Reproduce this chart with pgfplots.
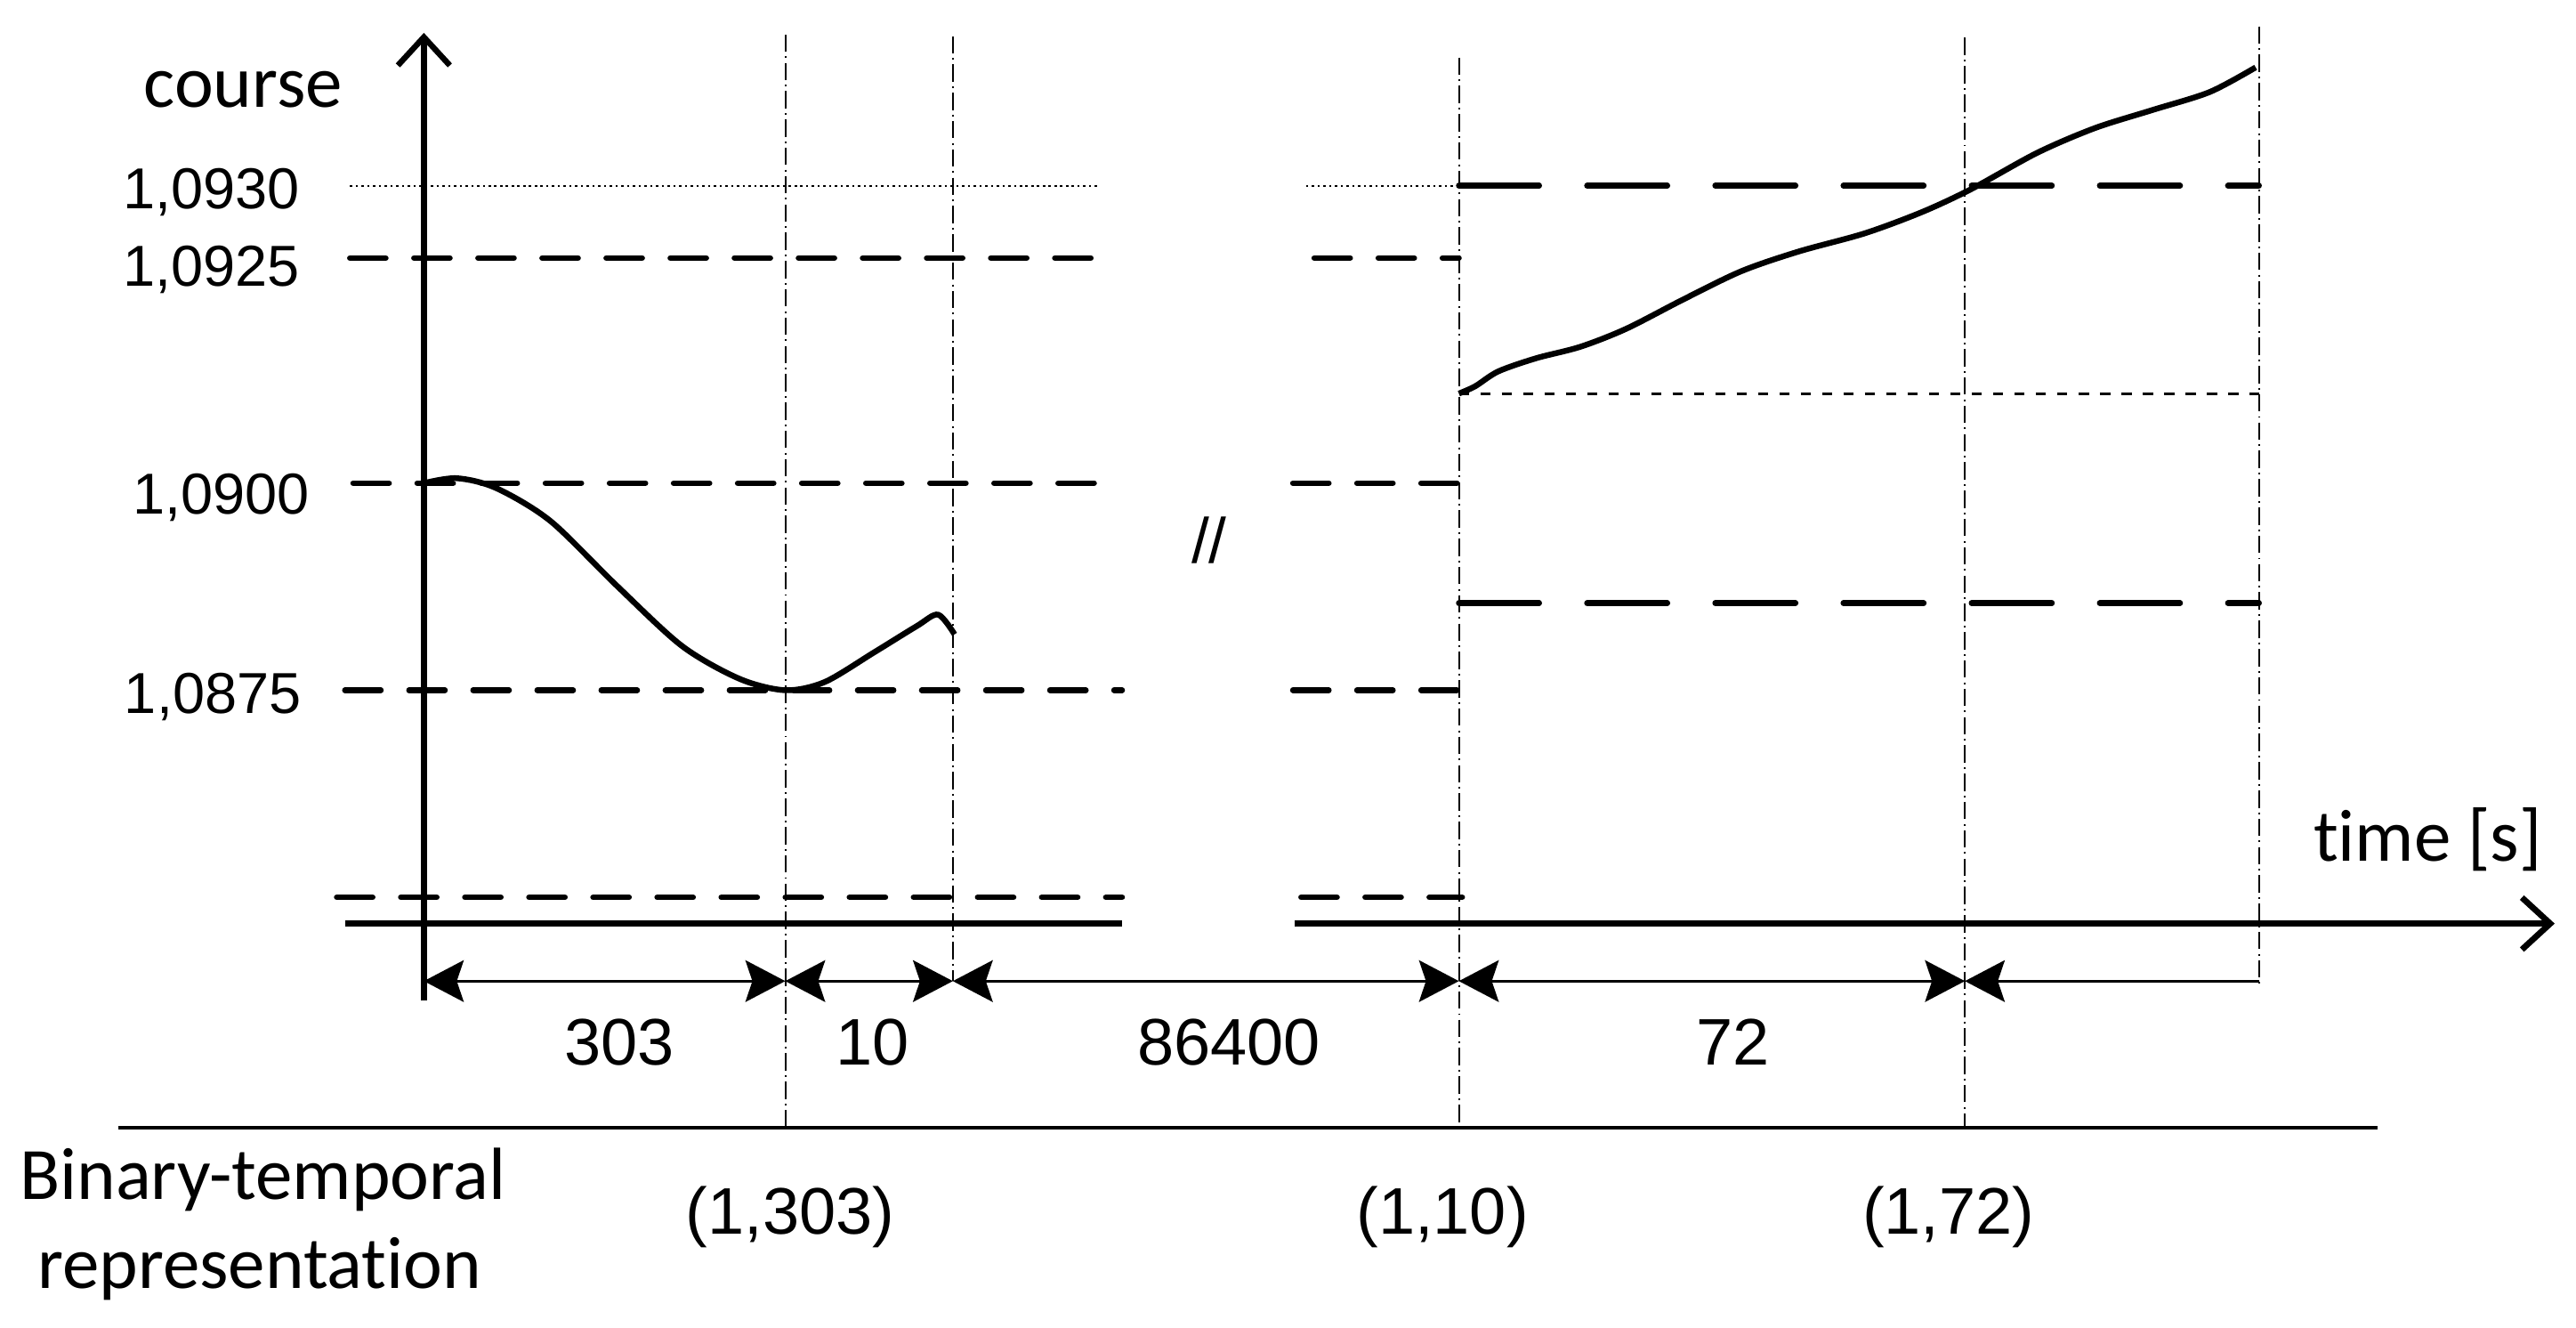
\documentclass[border=0pt]{standalone}
\usepackage{fontspec}
\setmainfont{Carlito}[Ligatures=NoCommon]
\newfontfamily\arial{Liberation Sans}
\usepackage{pgfplots}
\pgfplotsset{compat=1.18}
\usetikzlibrary{arrows.meta}

\tikzset{
  ddash/.style={black, line width=1pt, line cap=round, dash pattern=on 6.2pt off 4.9pt},
  ldash/.style={black, line width=1pt, line cap=round, dash pattern=on 13.9pt off 8.3pt},
  tdash/.style={black, line width=0.5pt, dash pattern=on 1.8pt off 1.9pt},
  dotl/.style={black, line width=0.3pt, dash pattern=on 0.4pt off 0.6pt},
  dd/.style={black, line width=0.3pt, dash pattern=on 3pt off 0.8pt on 0.3pt off 0.8pt},
  dimtip/.tip={Stealth[length=6.9pt,width=7.2pt,inset=1.2pt]},
  barb/.tip={Straight Barb[length=4.9pt,width=9pt]},
}
\newcommand\tickfont{\arial\fontsize{10}{11}\selectfont}
\newcommand\numfont{\arial\fontsize{11.4}{13}\selectfont}
\newcommand\txtfont{\fontsize{12.8}{15}\selectfont}

\begin{document}
\begin{tikzpicture}
\begin{axis}[
    width=15.68cm, height=8.08cm, scale only axis,
    xmin=0, xmax=1568, ymin=0, ymax=808, y dir=reverse,
    hide axis, clip=false,
]
\coordinate (bl) at (rel axis cs:0,0);
\coordinate (tr) at (rel axis cs:1,1);

% dash-dot guides
\addplot[dd] coordinates {(478,21) (478,686)};
\addplot[dd] coordinates {(580,22) (580,597)};
\addplot[dd] coordinates {(888,35) (888,686)};
\addplot[dd] coordinates {(1196,23) (1196,686)};
\addplot[dd] coordinates {(1375,16) (1375,600)};

% level lines, left part
\addplot[dotl]  coordinates {(213,113) (668,113)};
\addplot[ddash] coordinates {(213,157) (669,157)};
\addplot[ddash] coordinates {(215,294) (680,294)};
\addplot[ddash] coordinates {(210,420) (683,420)};
\addplot[ddash] coordinates {(205,546) (683,546)};

% level lines, right part
\addplot[dotl]  coordinates {(795,113) (888,113)};
\addplot[ddash] coordinates {(800,157) (888,157)};
\addplot[ddash] coordinates {(787,294) (895,294)};
\addplot[ddash] coordinates {(787,420) (887,420)};
\addplot[ddash] coordinates {(792,546) (890,546)};
\addplot[ldash] coordinates {(888,113) (1375,113)};
\addplot[ldash] coordinates {(888,367) (1375,367)};
\addplot[tdash] coordinates {(888,239.5) (1375,239.5)};

% axes
\addplot[black, line width=1pt, -barb] coordinates {(258,609) (258,20)};
\addplot[black, line width=1.05pt] coordinates {(210,562) (683,562)};
\addplot[black, line width=1.05pt, -barb] coordinates {(788,562) (1555,562)};

% course
\addplot[black, line width=1pt, smooth] coordinates {
  (258,294) (278,291) (302,297) (335,317) (375,356) (415,393)
  (450,413) (478,420) (502,415) (532,397) (558,381) (571,374) (581,386)
};
\addplot[black, line width=1pt, smooth] coordinates {
  (888,239.5) (898,235) (912,226) (935,218) (962,211) (990,200)
  (1025,182) (1060,165) (1095,153) (1135,142) (1170,129) (1200,115)
  (1240,93) (1275,78) (1310,67) (1345,56) (1373,41)
};

% intervals
\addplot[black, line width=0.5pt, dimtip-dimtip] coordinates {(258,597) (478,597)};
\addplot[black, line width=0.5pt, dimtip-dimtip] coordinates {(478,597) (580,597)};
\addplot[black, line width=0.5pt, dimtip-dimtip] coordinates {(580,597) (888,597)};
\addplot[black, line width=0.5pt, dimtip-dimtip] coordinates {(888,597) (1196,597)};
\addplot[black, line width=0.5pt, dimtip-] coordinates {(1196,597) (1375,597)};

% separator
\addplot[black, line width=0.6pt] coordinates {(72,686) (1447,686)};

% texts
\node[anchor=base east, inner sep=0pt, font=\tickfont] at (axis cs:183,127) {1,0930};
\node[anchor=base east, inner sep=0pt, font=\tickfont] at (axis cs:183,174) {1,0925};
\node[anchor=base east, inner sep=0pt, font=\tickfont] at (axis cs:189,313) {1,0900};
\node[anchor=base east, inner sep=0pt, font=\tickfont] at (axis cs:184,434) {1,0875};
\node[anchor=base, font=\txtfont] at (axis cs:148,65) {course};
\node[anchor=base east, inner sep=0pt, font=\txtfont] at (axis cs:1548,524) {time [s]};
\node[font=\arial\fontsize{11}{12}\selectfont] at (axis cs:736,329) {//};

\node[anchor=base, font=\numfont] at (axis cs:377,648) {303};
\node[anchor=base, font=\numfont] at (axis cs:531,648) {10};
\node[anchor=base, font=\numfont] at (axis cs:748,648) {86400};
\node[anchor=base, font=\numfont] at (axis cs:1055,648) {72};

\node[anchor=base, font=\txtfont] at (axis cs:160,730) {Binary-temporal};
\node[anchor=base, font=\txtfont] at (axis cs:158,784) {representation};
\node[anchor=base, font=\numfont] at (axis cs:481,751) {(1,303)};
\node[anchor=base, font=\numfont] at (axis cs:878,751) {(1,10)};
\node[anchor=base, font=\numfont] at (axis cs:1186,751) {(1,72)};
\end{axis}
\pgfresetboundingbox
\path[use as bounding box] (bl) rectangle (tr);
\end{tikzpicture}
\end{document}
